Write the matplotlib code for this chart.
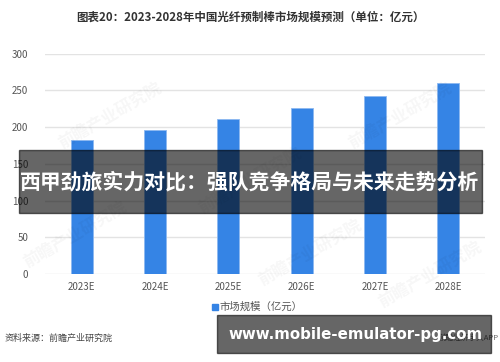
import matplotlib.pyplot as plt
import matplotlib.patches as mpatches

plt.rcParams['font.family'] = ['Noto Sans CJK SC', 'DejaVu Sans']

years = ['2023E', '2024E', '2025E', '2026E', '2027E', '2028E']
market = [183, 196, 211, 226, 243, 260]
yticks = [0, 50, 100, 150, 200, 250, 300]

title = '图表20：2023-2028年中国光纤预制棒市场规模预测（单位：亿元）'
legend_label = '市场规模（亿元）'
source = '资料来源：前瞻产业研究院'
banner = '西甲劲旅实力对比：强队竞争格局与未来走势分析'
site = 'www.mobile-emulator-pg.com'

fig = plt.figure(figsize=(5, 3.62), dpi=100)
ax = fig.add_axes([0.09, 0.2431, 0.88, 0.6086])

ax.bar(years, market, width=0.3, color='#3584e5', edgecolor='#8cb8f0', linewidth=0.6, zorder=3)
ax.set_ylim(0, 300)
ax.set_xlim(-0.5, 5.5)
ax.set_yticks(yticks)
ax.grid(axis='y', color='#e3e3e3', linewidth=1, zorder=0)
for s in ax.spines.values():
    s.set_visible(False)
ax.tick_params(length=0, labelsize=7, labelcolor='#555555')
ax.tick_params(axis='y', pad=12)
ax.tick_params(axis='x', pad=6)

# faint watermarks
for (wx, wy) in [(0.22, 0.68), (0.5, 0.5), (0.8, 0.68), (0.15, 0.35), (0.62, 0.3), (0.86, 0.24)]:
    fig.text(wx, wy, '前瞻产业研究院', fontsize=12, color='#000000', alpha=0.035,
             rotation=30, ha='center', va='center', fontweight='bold')

fig.text(0.5, 0.952, title, ha='center', va='center', fontsize=8.3, fontweight='bold', color='#333333')

fig.patches.append(mpatches.Rectangle((0.424, 0.144), 0.012, 0.017, transform=fig.transFigure,
                                      color='#3584e5', figure=fig))
fig.text(0.44, 0.152, legend_label, ha='left', va='center', fontsize=7.5, color='#555555')
fig.text(0.01, 0.066, source, ha='left', va='center', fontsize=6.5, color='#444444')
fig.text(0.998, 0.066, '前瞻经济学人APP', ha='right', va='center', fontsize=5.5, color='#666666')

# overlay banners
fig.patches.append(mpatches.Rectangle((0.038, 1 - 212.7 / 362), 0.925, 62.7 / 362,
                                      transform=fig.transFigure, color='black', alpha=0.6,
                                      figure=fig, zorder=10))
fig.text(0.5, 1 - 182 / 362, banner, ha='center', va='center', fontsize=15,
         fontweight='bold', color='white', zorder=11)
fig.patches.append(mpatches.Rectangle((0.434, 1 - 352.7 / 362), 0.548, 37.7 / 362,
                                      transform=fig.transFigure, color='black', alpha=0.6,
                                      figure=fig, zorder=10))
fig.text(0.456, 1 - 335 / 362, site, ha='left', va='center', fontsize=10.8,
         fontweight='bold', color='white', family='DejaVu Sans', zorder=11)

plt.savefig('out.png', dpi=100)
